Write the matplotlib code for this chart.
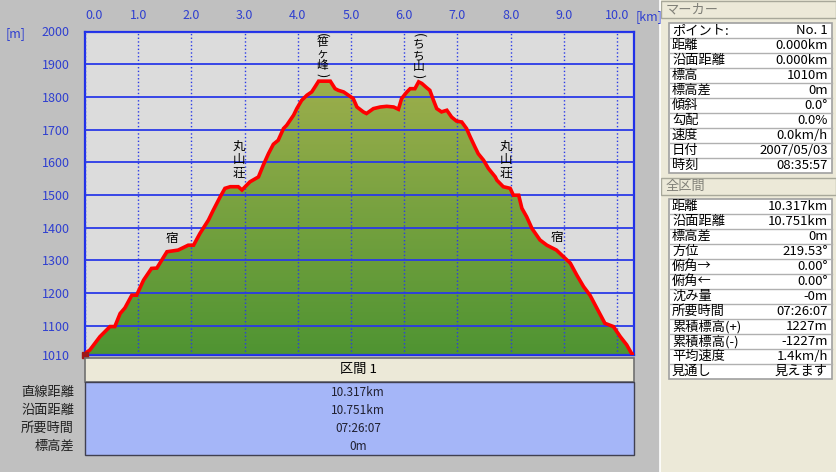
import matplotlib
matplotlib.use('Agg')
import matplotlib.pyplot as plt
import numpy as np
from matplotlib.patches import Rectangle
from matplotlib.colors import LinearSegmentedColormap

plt.rcParams['font.family'] = ['Noto Sans CJK JP', 'DejaVu Sans']

# elevation profile
dist_km = [0.00, 0.09, 0.28, 0.47, 0.56, 0.66, 0.75, 0.88, 0.97, 1.10, 1.25, 1.35,
           1.54, 1.75, 1.94, 2.04, 2.16, 2.32, 2.41, 2.54, 2.63, 2.73, 2.88, 2.95,
           3.10, 3.26, 3.35, 3.45, 3.54, 3.63, 3.73, 3.79, 3.92, 3.98, 4.07, 4.17,
           4.26, 4.32, 4.39, 4.61, 4.70, 4.76, 4.86, 4.95, 5.04, 5.11, 5.23, 5.29,
           5.42, 5.55, 5.67, 5.80, 5.89, 5.95, 6.05, 6.11, 6.20, 6.27, 6.33, 6.42,
           6.48, 6.55, 6.61, 6.70, 6.80, 6.89, 6.98, 7.08, 7.17, 7.24, 7.33, 7.39,
           7.49, 7.58, 7.71, 7.74, 7.86, 7.99, 8.05, 8.15, 8.21, 8.30, 8.40, 8.55,
           8.68, 8.86, 8.99, 9.12, 9.24, 9.37, 9.49, 9.62, 9.77, 9.93, 10.06, 10.18,
           10.27, 10.317]
elev_m = [1015, 1025, 1066, 1097, 1097, 1137, 1154, 1193, 1193, 1239, 1275, 1276,
          1326, 1331, 1346, 1346, 1382, 1423, 1453, 1494, 1520, 1525, 1525, 1515,
          1540, 1555, 1591, 1627, 1655, 1667, 1703, 1713, 1744, 1764, 1789, 1805,
          1815, 1830, 1848, 1848, 1825, 1820, 1815, 1805, 1795, 1769, 1754, 1749,
          1764, 1769, 1771, 1769, 1762, 1795, 1815, 1825, 1825, 1846, 1841, 1828,
          1820, 1789, 1764, 1754, 1759, 1738, 1726, 1723, 1703, 1677, 1646, 1626,
          1606, 1581, 1555, 1545, 1525, 1520, 1499, 1499, 1459, 1433, 1397, 1362,
          1346, 1331, 1311, 1291, 1255, 1219, 1193, 1153, 1107, 1097, 1066, 1041,
          1015, 1010]

x_ticks = [0, 1, 2, 3, 4, 5, 6, 7, 8, 9, 10]
y_ticks = [1010, 1100, 1200, 1300, 1400, 1500, 1600, 1700, 1800, 1900, 2000]

# place names written vertically: (km, text, centre elevation)
huts = [(1.64, '宿', 1365), (2.89, '丸\n山\n荘', 1607),
        (7.91, '丸\n山\n荘', 1607), (8.87, '宿', 1371)]
# peaks in brackets: (km, text, centre elev, top bracket elev, bottom bracket elev)
peaks = [(4.46, '笹\nヶ\n峰', 1930, 1989, 1865),
         (6.27, 'ち\nち\n山', 1927, 1989, 1862)]

section_rows = ['直線距離', '沿面距離', '所要時間', '標高差']
section_vals = ['10.317km', '10.751km', '07:26:07', '0m']

marker_rows = ['ポイント:', '距離', '沿面距離', '標高', '標高差', '傾斜', '勾配', '速度', '日付', '時刻']
marker_vals = ['No. 1', '0.000km', '0.000km', '1010m', '0m', '0.0°', '0.0%', '0.0km/h',
               '2007/05/03', '08:35:57']

total_rows = ['距離', '沿面距離', '標高差', '方位', '俯角→', '俯角←', '沈み量', '所要時間',
              '累積標高(+)', '累積標高(-)', '平均速度', '見通し']
total_vals = ['10.317km', '10.751km', '0m', '219.53°', '0.00°', '0.00°', '-0m', '07:26:07',
              '1227m', '-1227m', '1.4km/h', '見えます']

W, H = 837, 472
BLUE = '#2f3fd0'
fig = plt.figure(figsize=(W / 100, H / 100), dpi=100, facecolor='#c0c0c0')


def box(x0, y0, x1, y1):
    return [x0 / W, 1 - y1 / H, (x1 - x0) / W, (y1 - y0) / H]


ax = fig.add_axes(box(85, 31.5, 634, 355))
ax.set_facecolor('#dcdcdc')

dist = np.array(dist_km)
elev = np.array(elev_m)
poly, = ax.fill(np.r_[dist, dist[-1], dist[0]], np.r_[elev, 1010, 1010],
                facecolor='none', edgecolor='none')
cmap = LinearSegmentedColormap.from_list('grn', ['#4f9432', '#9cae4c'])
im = ax.imshow(np.linspace(0, 1, 256).reshape(-1, 1), origin='lower', aspect='auto',
               extent=[dist[0], dist[-1], 1010, elev.max()], cmap=cmap, zorder=1)
im.set_clip_path(poly)
ax.plot(dist, elev, color='#ff0000', lw=2.6, zorder=4, solid_joinstyle='miter')
ax.plot([0], [1010], marker='s', ms=5, color='#a01818', zorder=5, clip_on=False)

ax.set_xlim(0, 10.317)
ax.set_ylim(1010, 2000)
ax.set_xticks(x_ticks)
ax.set_xticklabels(['%.1f' % v for v in x_ticks])
ax.set_yticks(y_ticks)
ax.set_yticklabels([str(v) for v in y_ticks])
ax.xaxis.tick_top()
ax.tick_params(axis='x', length=0, pad=7, labelcolor=BLUE, labelsize=9)
ax.tick_params(axis='y', length=0, pad=11, labelcolor=BLUE, labelsize=9)
ax.get_xticklabels()[0].set_horizontalalignment('left')
ax.set_axisbelow(False)
ax.xaxis.grid(True, color='#2a3ae8', ls=':', lw=1.0)
ax.yaxis.grid(True, color='#2a3ae8', ls='-', lw=1.3)
for s in ax.spines.values():
    s.set_color('#2030e8')
    s.set_linewidth(1.6)

for km, txt, h in huts:
    ax.text(km, h, txt, ha='center', va='center', fontsize=9, linespacing=1.05,
            color='black', zorder=6)
for km, txt, h, top, bot in peaks:
    ax.text(km, h, txt, ha='center', va='center', fontsize=8.5, linespacing=0.85,
            color='black', zorder=6)
    ax.text(km, top, '(', rotation=-90, ha='center', va='center', fontsize=9,
            color='black', zorder=6)
    ax.text(km, bot, ')', rotation=-90, ha='center', va='center', fontsize=9,
            color='black', zorder=6)

# overlay in pixel coordinates for the panels
ov = fig.add_axes([0, 0, 1, 1])
ov.set_xlim(0, W)
ov.set_ylim(H, 0)
ov.axis('off')
ov.patch.set_alpha(0)

ov.text(16, 34, '[m]', color=BLUE, fontsize=9, ha='center', va='center')
ov.text(649, 17, '[km]', color=BLUE, fontsize=9, ha='center', va='center')

# section table under the chart
ov.add_patch(Rectangle((85, 358), 549, 24, facecolor='#ece9d8', edgecolor='#707070', lw=1.2))
ov.add_patch(Rectangle((85, 382), 549, 73, facecolor='#a5b6f8', edgecolor='#404050', lw=1.0))
ov.text(358, 370, '区間 1', ha='center', va='center', fontsize=9.5, color='black')
for i, (lab, val) in enumerate(zip(section_rows, section_vals)):
    y = 392.5 + i * 18
    ov.text(74, y, lab, ha='right', va='center', fontsize=9.5, color='#202020')
    ov.text(358, y, val, ha='center', va='center', fontsize=8.5, color='#202030')

# right side panel
ov.add_patch(Rectangle((660, 0), 177, H, facecolor='#ece9d8', edgecolor='none'))
ov.plot([660, 660], [0, H], color='#ffffff', lw=1.2)


def header(y0, y1, title):
    ov.add_patch(Rectangle((661, y0), 175, y1 - y0, facecolor='#ece9d8',
                           edgecolor='#a8a89a', lw=1.0))
    ov.text(666, (y0 + y1) / 2, title, ha='left', va='center', fontsize=9.5, color='#808078')


def table(y0, rows, vals):
    rh = 15
    ov.add_patch(Rectangle((669, y0), 163, rh * len(rows), facecolor='white',
                           edgecolor='#a0a0a0', lw=1.2))
    for i, (lab, val) in enumerate(zip(rows, vals)):
        y = y0 + i * rh
        if i:
            ov.plot([669, 832], [y, y], color='#b0b0b0', lw=1.0)
        ov.text(672, y + rh / 2, lab, ha='left', va='center', fontsize=9.5, color='black')
        ov.text(828, y + rh / 2, val, ha='right', va='center', fontsize=9.5, color='black')


header(1, 18, 'マーカー')
table(23, marker_rows, marker_vals)
header(178, 195, '全区間')
table(199, total_rows, total_vals)

fig.savefig('out.png', dpi=100, facecolor=fig.get_facecolor())
